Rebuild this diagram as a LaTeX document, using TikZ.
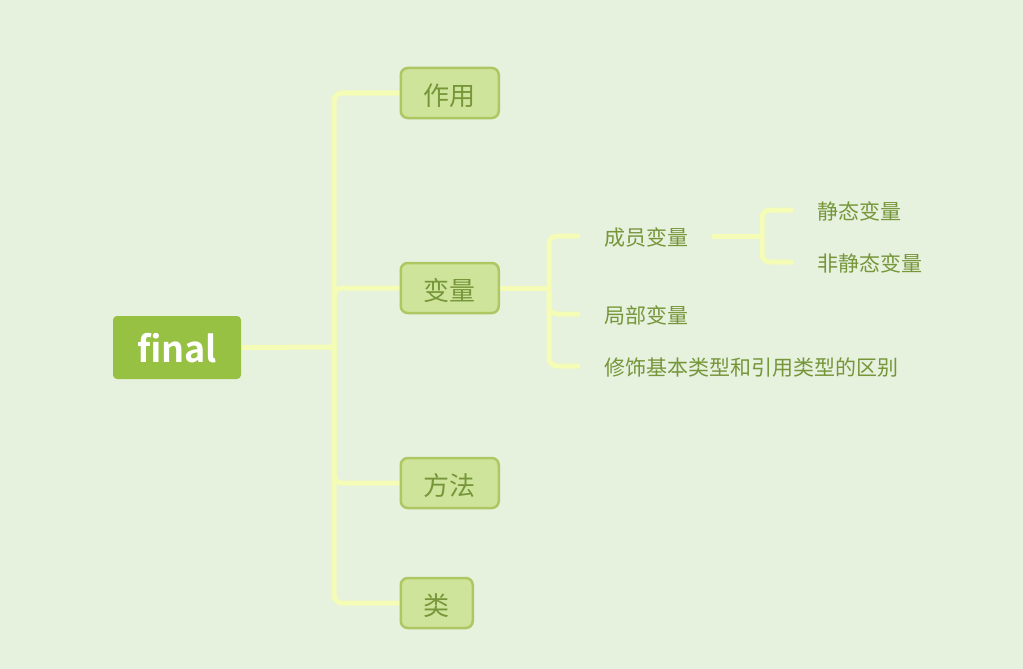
\documentclass[tikz,border=0pt]{standalone}
\usepackage{fontspec}
\usetikzlibrary{backgrounds}
\setmainfont{Noto Sans CJK SC}
\newfontfamily\cjkbold{Noto Sans CJK SC Bold}
\newcommand{\lowered}[2]{\raisebox{-#1}[\height][\depth]{#2}}
\definecolor{bg}{HTML}{E6F1DE}
\definecolor{rootfill}{HTML}{96C142}
\definecolor{lonefill}{HTML}{CFE49B}
\definecolor{loneline}{HTML}{ADC862}
\definecolor{txt}{HTML}{76963A}
\definecolor{conncol}{HTML}{F4FCB6}
\tikzset{
  rootbox/.style={fill=rootfill, rounded corners=4pt, text=white, font=\cjkbold\fontsize{36}{40}\selectfont, minimum width=128pt, minimum height=63pt, inner sep=0pt},
  lonebox/.style={fill=lonefill, draw=loneline, line width=2.5pt, rounded corners=7pt, text=txt, font=\fontsize{26}{30}\selectfont, minimum height=50pt, inner xsep=23pt, inner ysep=0pt, anchor=west},
  ltwo/.style={text=txt, font=\fontsize{21}{24}\selectfont, inner xsep=24pt, inner ysep=4pt, anchor=west},
  conn/.style={draw=conncol, line width=5pt, rounded corners=8pt},
}
\begin{document}
\begin{tikzpicture}[x=1pt,y=-1pt]
\node[rootbox] (root) at (177,347.5) {\lowered{1pt}{final}};
\node[lonebox] (a) at (399.5,93) {\lowered{2.5pt}{作用}};
\node[lonebox] (b) at (399.5,288) {\lowered{2.5pt}{变量}};
\node[lonebox] (c) at (399.5,483) {\lowered{2.5pt}{方法}};
\node[lonebox] (d) at (399.5,603) {\lowered{2.5pt}{类}};
\node[ltwo] (b1) at (580,236) {\lowered{1.5pt}{成员变量}};
\node[ltwo] (b2) at (580,314) {\lowered{1.5pt}{局部变量}};
\node[ltwo] (b3) at (580,366) {\lowered{1.5pt}{修饰基本类型和引用类型的区别}};
\node[ltwo] (b11) at (793,210) {\lowered{1.5pt}{静态变量}};
\node[ltwo] (b12) at (793,262) {\lowered{1.5pt}{非静态变量}};
\coordinate (j0) at (334,347);
\coordinate (j1) at (549,288);
\coordinate (j2) at (762,236);
\begin{scope}[on background layer]
\fill[bg] (0,0) rectangle (1023,669);
\draw[conn] (root.east) -- (j0);
\draw[conn] (j0) |- (a.west);
\draw[conn] (j0) |- (b.west);
\draw[conn] (j0) |- (c.west);
\draw[conn] (j0) |- (d.west);
\draw[conn] (b.east) -- (j1);
\draw[conn] (j1) |- (b1.west);
\draw[conn] (j1) |- (b2.west);
\draw[conn] (j1) |- (b3.west);
\draw[conn] (b1.east) -- (j2);
\draw[conn] (j2) |- (b11.west);
\draw[conn] (j2) |- (b12.west);
\end{scope}
\useasboundingbox (0,0) rectangle (1023,669);
\end{tikzpicture}
\end{document}
